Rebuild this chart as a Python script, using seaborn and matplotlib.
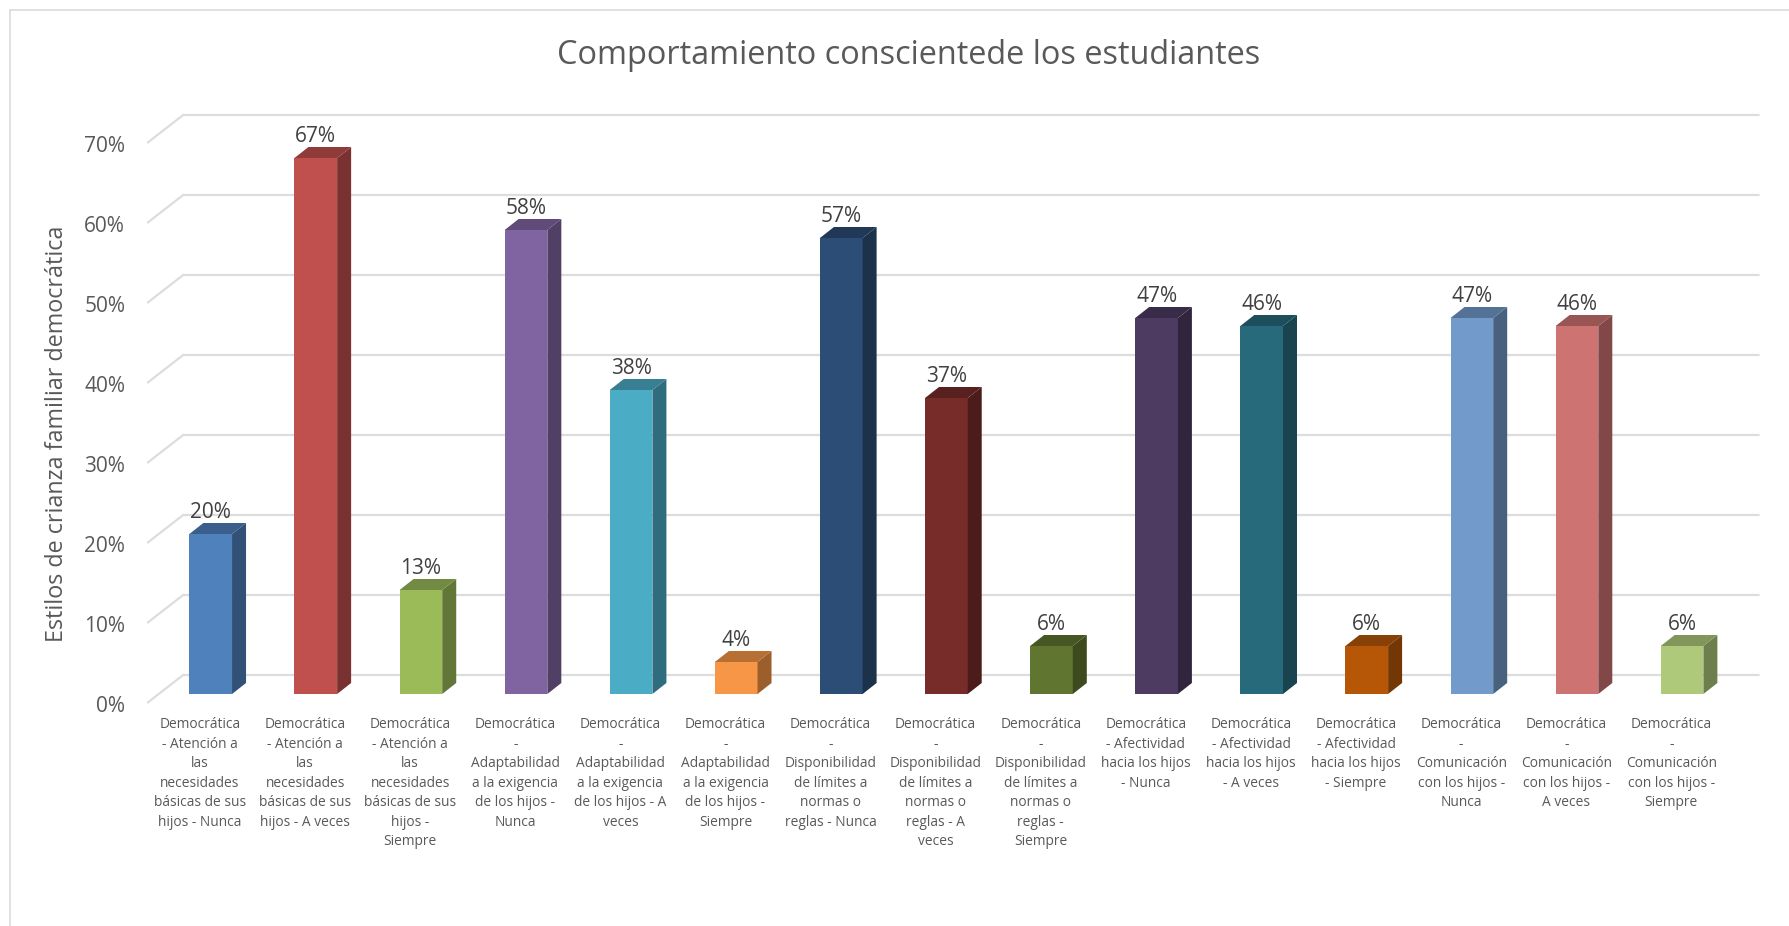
import matplotlib
matplotlib.use("Agg")
import matplotlib.pyplot as plt
import matplotlib.colors as mcolors
from matplotlib.lines import Line2D
from matplotlib.patches import Polygon, Rectangle
from matplotlib.transforms import ScaledTranslation
import pandas as pd
import seaborn as sns

TITLE = "Comportamiento conscientede los estudiantes"
Y_LABEL = "Estilos de crianza familiar democrática"

CATEGORIES = [
    "Democrática\n- Atención a\nlas\nnecesidades\nbásicas de sus\nhijos - Nunca",
    "Democrática\n- Atención a\nlas\nnecesidades\nbásicas de sus\nhijos - A veces",
    "Democrática\n- Atención a\nlas\nnecesidades\nbásicas de sus\nhijos -\nSiempre",
    "Democrática\n-\nAdaptabilidad\na la exigencia\nde los hijos -\nNunca",
    "Democrática\n-\nAdaptabilidad\na la exigencia\nde los hijos - A\nveces",
    "Democrática\n-\nAdaptabilidad\na la exigencia\nde los hijos -\nSiempre",
    "Democrática\n-\nDisponibilidad\nde límites a\nnormas o\nreglas - Nunca",
    "Democrática\n-\nDisponibilidad\nde límites a\nnormas o\nreglas - A\nveces",
    "Democrática\n-\nDisponibilidad\nde límites a\nnormas o\nreglas -\nSiempre",
    "Democrática\n- Afectividad\nhacia los hijos\n- Nunca",
    "Democrática\n- Afectividad\nhacia los hijos\n- A veces",
    "Democrática\n- Afectividad\nhacia los hijos\n- Siempre",
    "Democrática\n-\nComunicación\ncon los hijos -\nNunca",
    "Democrática\n-\nComunicación\ncon los hijos -\nA veces",
    "Democrática\n-\nComunicación\ncon los hijos -\nSiempre",
]
VALUES = [0.20, 0.67, 0.13, 0.58, 0.38, 0.04, 0.57, 0.37, 0.06, 0.47, 0.46, 0.06, 0.47, 0.46, 0.06]
BAR_COLORS = [
    "#4F81BD", "#C0504D", "#9BBB59", "#8064A2", "#4BACC6",
    "#F79646", "#2C4D75", "#772C2A", "#5F7530", "#4D3B62",
    "#276A7C", "#B65708", "#729ACA", "#CD7371", "#AFC97A",
]
Y_TICKS = [0.0, 0.1, 0.2, 0.3, 0.4, 0.5, 0.6, 0.7]
Y_TICK_LABELS = ["0%", "10%", "20%", "30%", "40%", "50%", "60%", "70%"]

FONT = "Open Sans"
W, H, DPI = 1789, 926, 100
GRID = "#DDDDDD"
BAR_DX, BAR_DY = 14, 11   # px depth of a bar
WALL_BACK = (25, 19)      # gridline back wall, px from the bar plane
WALL_FRONT = (-11, -9)    # gridline front edge, px from the bar plane


def shade(color, factor):
    r, g, b = mcolors.to_rgb(color)
    return (r * factor, g * factor, b * factor)


def main():
    sns.set_theme(style="white")
    plt.rcParams["font.family"] = [FONT, "DejaVu Sans"]

    fig = plt.figure(figsize=(W / DPI, H / DPI), dpi=DPI, facecolor="white")
    # axes = plane of the bar fronts: 0% at y=694 px, 70% at y=134 px
    left, right = 158.15, 1734.6
    ax = fig.add_axes([left / W, (H - 694) / H, (right - left) / W, 560 / H])

    df = pd.DataFrame({"cat": [str(i) for i in range(len(VALUES))], "val": VALUES})
    sns.barplot(data=df, x="cat", y="val", hue="cat", palette=BAR_COLORS, legend=False,
                width=0.406, saturation=1, linewidth=0, ax=ax)
    ax.set_xlim(-0.5, len(VALUES) - 0.5)
    ax.set_ylim(0, 0.70)
    ax.set_xlabel("")
    ax.set_ylabel("")
    sns.despine(ax=ax, left=True, bottom=True)
    ax.patch.set_alpha(0)

    # chart frame: left and top only
    for xs, ys in [((10, 10), (0, H - 9.5)), ((10, W), (H - 9.5, H - 9.5))]:
        fig.add_artist(Line2D([x / W for x in xs], [y / H for y in ys], color="#D9D9D9", lw=1.1))

    inv = ax.transData.inverted()

    # gridlines with slanted wall part, behind the bars
    x0, x1 = ax.get_xlim()
    for t in Y_TICKS:
        (ax0, ay0), (ax1, _) = ax.transData.transform([(x0, t), (x1, t)])
        pts = [(ax0 + WALL_FRONT[0], ay0 + WALL_FRONT[1]),
               (ax0 + WALL_BACK[0], ay0 + WALL_BACK[1]),
               (ax1 + WALL_BACK[0], ay0 + WALL_BACK[1])]
        xy = inv.transform(pts)
        ax.plot(xy[:, 0], xy[:, 1], color=GRID, lw=1.6, zorder=0.5, clip_on=False,
                solid_capstyle="butt")

    # 3d faces + value labels
    bars = [p for p in ax.patches if isinstance(p, Rectangle)]
    bars = sorted(bars, key=lambda p: p.get_x())
    for bar, val, col in zip(bars, VALUES, BAR_COLORS):
        bx, w = bar.get_x(), bar.get_width()
        (px0, py0), (px1, py1) = ax.transData.transform([(bx, 0), (bx + w, val)])
        side = inv.transform([(px1, py0), (px1 + BAR_DX, py0 + BAR_DY),
                              (px1 + BAR_DX, py1 + BAR_DY), (px1, py1)])
        top = inv.transform([(px0, py1), (px0 + BAR_DX, py1 + BAR_DY),
                             (px1 + BAR_DX, py1 + BAR_DY), (px1, py1)])
        ax.add_patch(Polygon(side, closed=True, fc=shade(col, 0.63), ec="none", clip_on=False))
        ax.add_patch(Polygon(top, closed=True, fc=shade(col, 0.74), ec="none", clip_on=False))
        bar.set_clip_on(False)
        ax.annotate(f"{val:.0%}", (bx + w / 2, val), xytext=(0, 22 * 72 / DPI),
                    textcoords="offset points", ha="center", va="center",
                    fontsize=15, color="#404040", annotation_clip=False)

    # tick labels, shifted to the front edge of the wall
    ax.set_yticks(Y_TICKS)
    ax.set_yticklabels(Y_TICK_LABELS, fontsize=15, color="#595959")
    ax.tick_params(axis="y", length=0, pad=33 * 72 / DPI)
    for lab in ax.get_yticklabels():
        lab.set_transform(lab.get_transform() + ScaledTranslation(0, -10 / DPI, fig.dpi_scale_trans))

    ax.set_xticks(range(len(CATEGORIES)))
    ax.set_xticklabels(CATEGORIES, fontsize=9.9, color="#595959", linespacing=1.41)
    ax.tick_params(axis="x", length=0, pad=23 * 72 / DPI)
    for lab in ax.get_xticklabels():
        lab.set_transform(lab.get_transform() + ScaledTranslation(-10.7 / DPI, 0, fig.dpi_scale_trans))

    fig.text(909 / W, 1 - 55 / H, TITLE, ha="center", va="center", fontsize=23.4, color="#595959")
    fig.text(57 / W, 1 - 434 / H, Y_LABEL, rotation=90, ha="center", va="center",
             fontsize=16.8, color="#595959")

    fig.savefig("out.png", dpi=DPI)


if __name__ == "__main__":
    main()
